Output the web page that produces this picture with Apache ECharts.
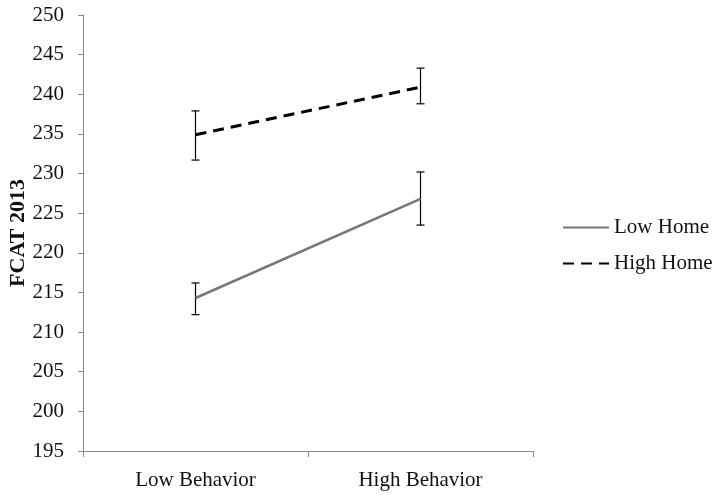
<!DOCTYPE html>
<html>
<head>
<meta charset="utf-8">
<script src="https://cdn.jsdelivr.net/npm/echarts@6/dist/echarts.min.js"></script>
<style>html,body{margin:0;padding:0;background:#fff;}#c{width:721px;height:495px;}</style>
</head>
<body>
<div id="c"></div>
<script>
var categories = ['Low Behavior', 'High Behavior'];
var lowHome = [214.3, 226.8];
var lowHomeErrLow = [212.2, 223.5];
var lowHomeErrHigh = [216.2, 230.2];
var highHome = [234.9, 240.9];
var highHomeErrLow = [231.7, 238.8];
var highHomeErrHigh = [237.9, 243.3];
var yTicks = [195, 250, 5];

function errData(lo, hi) {
  return categories.map(function (c, i) { return [i, lo[i], hi[i]]; });
}
function renderErr(params, api) {
  var x = api.value(0);
  var top = api.coord([x, api.value(2)]);
  var bot = api.coord([x, api.value(1)]);
  var w = 4;
  var st = { stroke: '#000', lineWidth: 1.2 };
  return {
    type: 'group',
    children: [
      { type: 'line', shape: { x1: top[0], y1: top[1], x2: bot[0], y2: bot[1] }, style: st },
      { type: 'line', shape: { x1: top[0] - w, y1: top[1], x2: top[0] + w, y2: top[1] }, style: st },
      { type: 'line', shape: { x1: bot[0] - w, y1: bot[1], x2: bot[0] + w, y2: bot[1] }, style: st }
    ]
  };
}
var font = '"Liberation Serif", "Times New Roman", serif';
var chart = echarts.init(document.getElementById('c'));
chart.setOption({
  animation: false,
  backgroundColor: '#fff',
  grid: { left: 83, top: 15, right: 188, bottom: 44, containLabel: false, outerBoundsMode: 'none' },
  legend: {
    orient: 'vertical',
    left: 562,
    top: 217,
    padding: 0,
    itemWidth: 46,
    itemHeight: 20,
    itemGap: 15,
    itemStyle: { opacity: 0 },
    textStyle: { fontFamily: font, fontSize: 21, color: '#111', padding: [0, 0, 0, 0] },
    data: [{ name: 'Low Home' }, { name: 'High Home' }]
  },
  xAxis: {
    type: 'category',
    data: categories,
    axisLine: { lineStyle: { color: '#888', width: 1 } },
    axisTick: { show: true, length: 6, lineStyle: { color: '#888' } },
    axisLabel: { fontFamily: font, fontSize: 21, color: '#111', margin: 19 },
    splitLine: { show: false }
  },
  yAxis: {
    type: 'value',
    min: yTicks[0],
    max: yTicks[1],
    interval: yTicks[2],
    name: 'FCAT 2013',
    nameLocation: 'middle',
    nameGap: 54,
    nameMoveOverlap: false,
    nameTextStyle: { fontFamily: font, fontSize: 22, fontWeight: 'bold', color: '#111' },
    axisLine: { show: true, lineStyle: { color: '#888', width: 1 } },
    axisTick: { show: true, length: 5, lineStyle: { color: '#888' } },
    axisLabel: { fontFamily: font, fontSize: 21, color: '#111', margin: 19 },
    splitLine: { show: false }
  },
  series: [
    {
      name: 'Low Home', type: 'line', data: lowHome, symbol: 'none',
      lineStyle: { color: '#777', width: 2.5 }, itemStyle: { color: '#777' }, z: 3
    },
    {
      name: 'High Home', type: 'line', data: highHome, symbol: 'none',
      lineStyle: { color: '#000', width: 3, type: [11, 7] }, itemStyle: { color: '#000' }, z: 3
    },
    { type: 'custom', renderItem: renderErr, data: errData(lowHomeErrLow, lowHomeErrHigh), z: 2 },
    { type: 'custom', renderItem: renderErr, data: errData(highHomeErrLow, highHomeErrHigh), z: 2 }
  ]
});
</script>
</body>
</html>
